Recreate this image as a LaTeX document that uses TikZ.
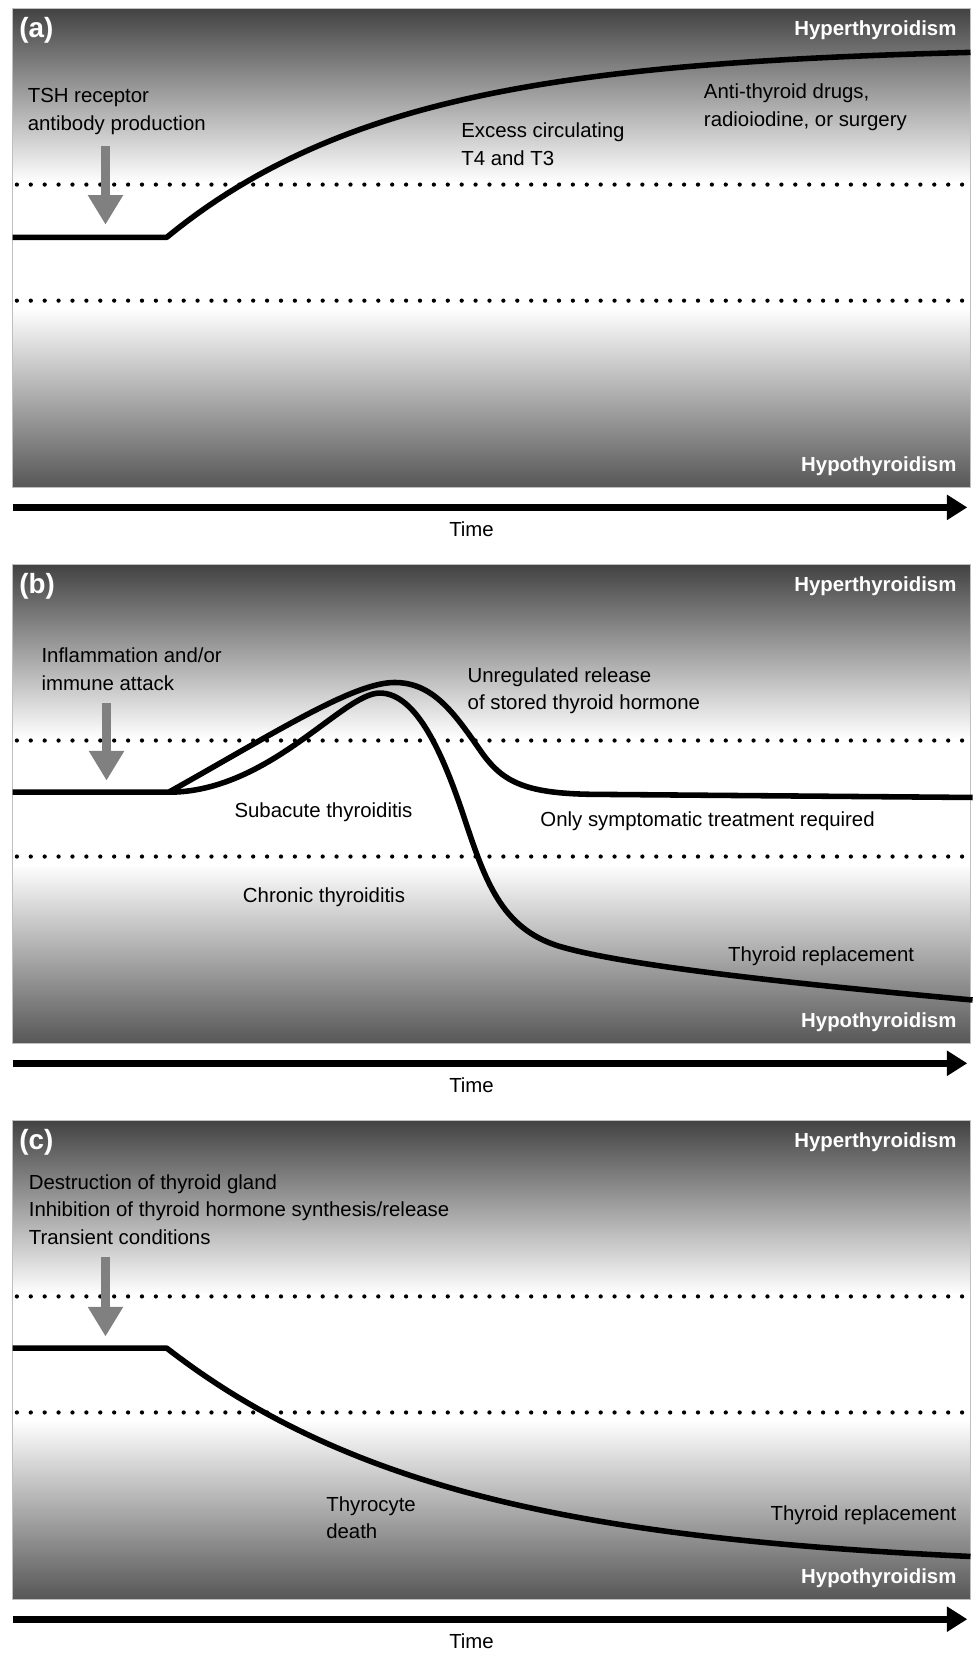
\documentclass[tikz,border=0pt]{standalone}
\usepackage{fontspec}
\setmainfont{Liberation Sans}
\usetikzlibrary{arrows.meta}
\def\statepanel#1#2{%
	\begin{scope}[shift={(0,#1)}]
		\shade[top color=black!74, bottom color=white] (12,0) rectangle (920,165);
		\fill[white] (12,165) rectangle (920,284);
		\shade[top color=white, bottom color=black!66] (12,284) rectangle (920,454);
		\draw[black!25, line width=0.5pt] (12,0) rectangle (920,454);
		\draw[limit] (16,167) -- (920,167);
		\draw[limit] (16,277) -- (920,277);
		\node[tag] (tag#2) at (18,19) {(#2)};
		\node[state] (hyper#2) at (907,19) {Hyperthyroidism};
		\node[state] (hypo#2) at (907,432) {Hypothyroidism};
		\coordinate (tstart#2) at (12,473);
		\coordinate (tend#2) at (917,473);
		\draw[timeaxis] (tstart#2) -- (tend#2);
		\node[lbl, anchor=center] (time#2) at (447,492) {Time};
	\end{scope}}

\begin{document}
\begin{tikzpicture}[x=0.02cm, y=-0.02cm,
		lbl/.style={anchor=west, inner sep=0pt, align=left, yshift=-1pt, font=\fontsize{11}{15}\selectfont},
		state/.style={anchor=east, inner sep=0pt, text=white, yshift=-1pt, font=\bfseries\fontsize{11}{13}\selectfont},
		tag/.style={anchor=west, inner sep=0pt, text=white, yshift=-1pt, font=\bfseries\fontsize{15}{18}\selectfont},
		level/.style={line width=3pt, line join=round},
		limit/.style={line width=2.3pt, line cap=round, dash pattern=on 0pt off 7.5pt},
		trigger/.style={draw=black!50, line width=4.6pt, -{Triangle[width=18pt, length=16pt]}},
		timeaxis/.style={line width=4pt, -{Triangle[width=13pt, length=11pt]}}]
	\useasboundingbox (0,0) rectangle (922,1568);
	
	\statepanel{8}{a}
	\statepanel{535}{b}
	\statepanel{1062}{c}
	
	\node[lbl] (aCause) at (26,104) {TSH receptor\\antibody production};
	\node[lbl] (aExcess) at (437,135) {Excess circulating\\T4 and T3};
	\node[lbl] (aTreat) at (667,100) {Anti-thyroid drugs,\\radioiodine, or surgery};
	\coordinate (aFrom) at (100,138);
	\coordinate (aTo) at (100,213);
	\draw[trigger] (aFrom) -- (aTo);
	\coordinate (aKnee) at (158,225);
	\draw[level] (12,225) -- (aKnee) -- plot[domain=158:920, samples=80] (\x, {44+181*exp(-(\x-158)/220)});
	
	\node[lbl] (bCause) at (39,633) {Inflammation and/or\\immune attack};
	\node[lbl] (bRelease) at (443,653) {Unregulated release\\of stored thyroid hormone};
	\node[lbl] (bSub) at (222,768) {Subacute thyroiditis};
	\node[lbl] (bSympt) at (512,777) {Only symptomatic treatment required};
	\node[lbl] (bChronic) at (230,849) {Chronic thyroiditis};
	\node[lbl] (bRepl) at (690,905) {Thyroid replacement};
	\coordinate (bFrom) at (101,666);
	\coordinate (bTo) at (101,740);
	\draw[trigger] (bFrom) -- (bTo);
	\coordinate (bKnee) at (160,751);
	\draw[level] (12,751) -- (bKnee) .. controls (260,695) and (335,647) .. (374,647)
		.. controls (410,647) and (430,675) .. (455,711)
		.. controls (475,740) and (495,752) .. (560,753) -- (922,756);
	\draw[level] (bKnee) .. controls (255,751) and (325,657) .. (360,657)
		.. controls (395,657) and (420,715) .. (440,775)
		.. controls (460,835) and (475,880) .. (530,897)
		.. controls (580,912) and (700,928) .. (922,948);
	
	\node[lbl] (cCause) at (27,1145) {Destruction of thyroid gland\\Inhibition of thyroid hormone synthesis/release\\Transient conditions};
	\node[lbl] (cDeath) at (309,1437) {Thyrocyte\\death};
	\node[lbl, anchor=east] (cRepl) at (907,1435) {Thyroid replacement};
	\coordinate (cFrom) at (100,1192);
	\coordinate (cTo) at (100,1267);
	\draw[trigger] (cFrom) -- (cTo);
	\coordinate (cKnee) at (158,1278);
	\draw[level] (12,1278) -- (cKnee) -- plot[domain=158:920, samples=80] (\x, {1278+210*(1-exp(-(\x-158)/270))});
\end{tikzpicture}
\end{document}
